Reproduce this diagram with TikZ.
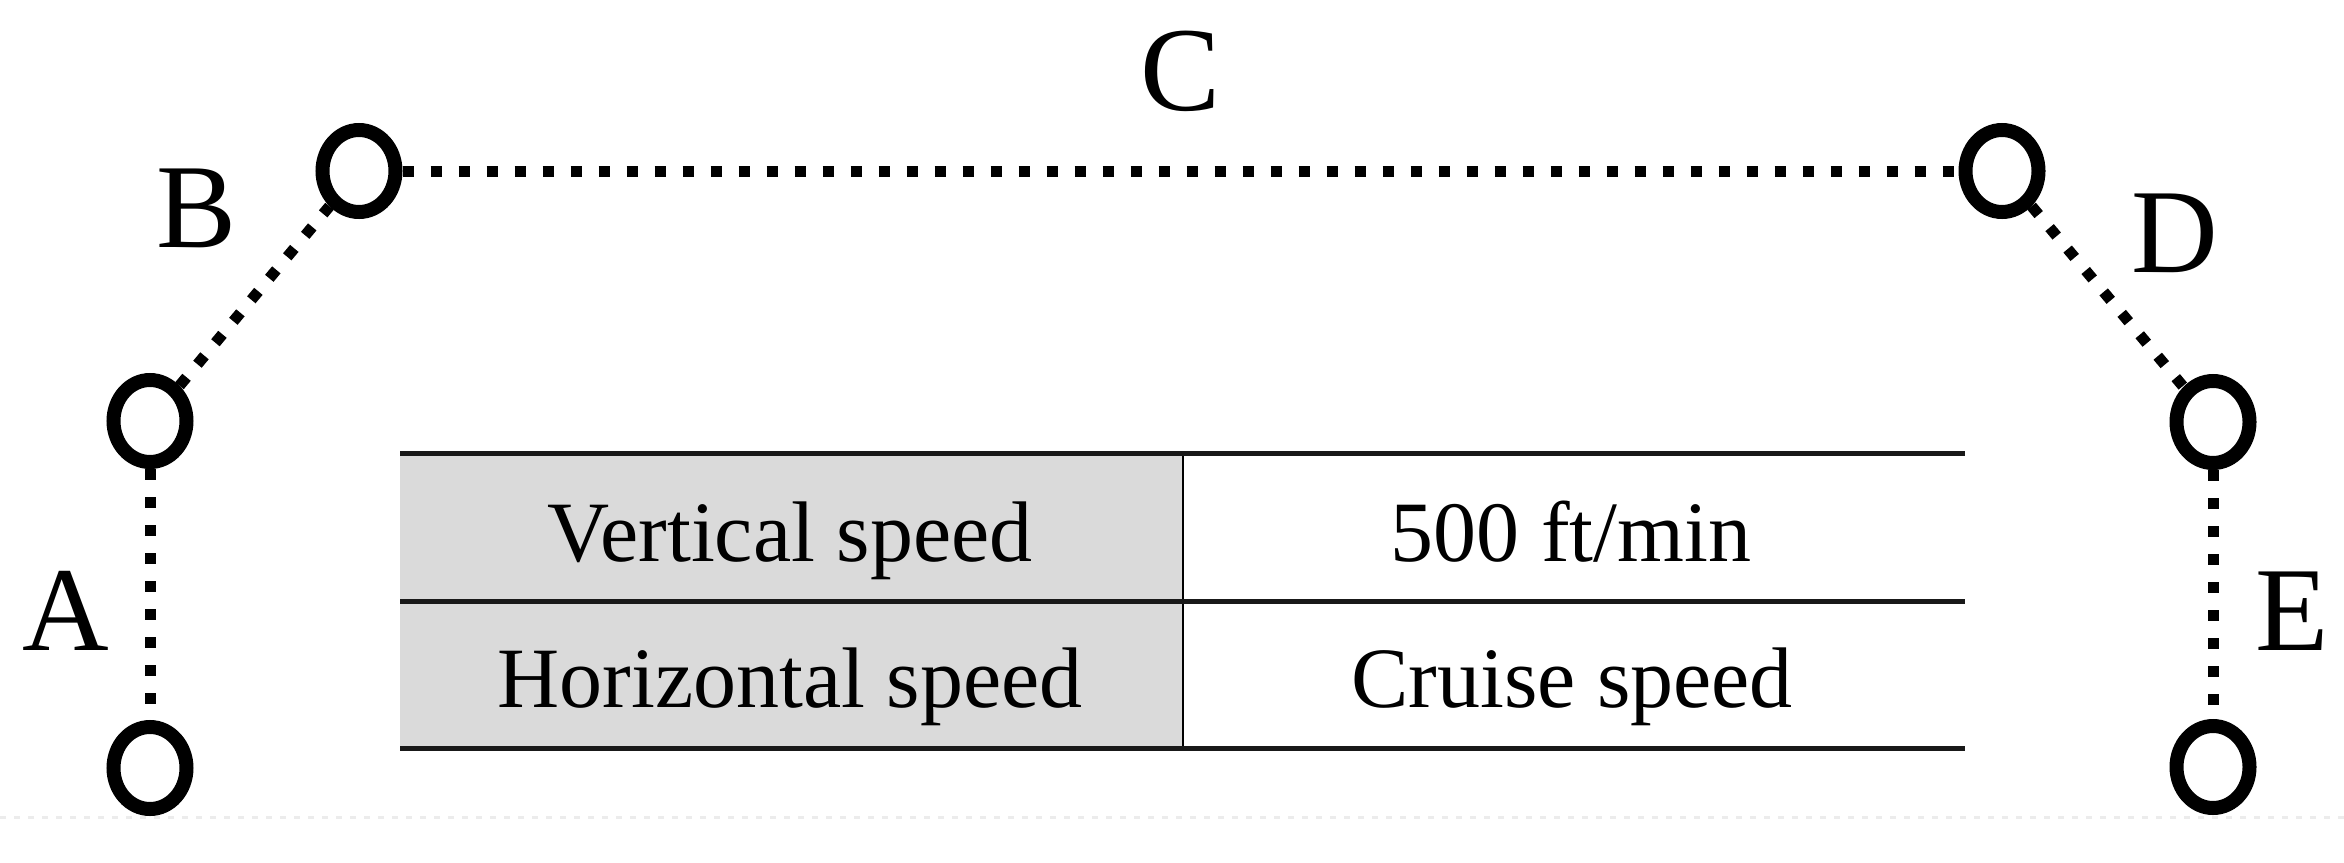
\documentclass[tikz,border=0pt]{standalone}
\usepackage{fontspec}
\setmainfont{Liberation Serif}
\usetikzlibrary{shapes.geometric}
\begin{document}
\begin{tikzpicture}[x=0.5pt,y=-0.5pt,
  ptnode/.style={ellipse, draw=black, line width=7pt, minimum width=36.5pt, minimum height=41pt, inner sep=0pt, fill=white},
  dotline/.style={line width=5.5pt, dash pattern=on 5.5pt off 8.5pt, line cap=butt},
  lbl/.style={font=\fontsize{60}{60}\selectfont, inner sep=0pt, anchor=base},
  cell/.style={font=\fontsize{43}{43}\selectfont, inner sep=0pt, anchor=base},
  tabrule/.style={line width=2.5pt, draw=gray!20!black}]
\useasboundingbox (0,0) rectangle (2344,862);
\fill[white] (0,0) rectangle (2344,862);
% faint baseline
\draw[gray!15, line width=1.5pt, dash pattern=on 3pt off 4pt] (0,817) -- (2344,817);
% table
\fill[gray!29] (400,453) rectangle (1183,748);
\draw[line width=1pt] (1183,453) -- (1183,748);
\draw[tabrule] (400,453) -- (1965,453);
\draw[tabrule] (400,601) -- (1965,601);
\draw[tabrule] (400,748) -- (1965,748);
\node[cell] (t11) at (790,561) {Vertical speed};
\node[cell] (t12) at (1571,561) {500 ft/min};
\node[cell] (t21) at (790,707) {Horizontal speed};
\node[cell] (t22) at (1572,707) {Cruise speed};
% points
\node[ptnode] (a1) at (150,768) {};
\node[ptnode] (a2) at (150,421) {};
\node[ptnode] (b) at (359,171) {};
\node[ptnode] (d) at (2002,171) {};
\node[ptnode] (e1) at (2213,422) {};
\node[ptnode] (e2) at (2213,767) {};
% connectors
\draw[dotline] (a2) -- (a1);
\draw[dotline] (a2) -- (b);
\draw[dotline] (b) -- (d);
\draw[dotline] (d) -- (e1);
\draw[dotline] (e1) -- (e2);
% labels
\node[lbl] (lA) at (66,650) {A};
\node[lbl] (lB) at (197,247) {B};
\node[lbl] (lC) at (1181,110) {C};
\node[lbl] (lD) at (2175,272) {D};
\node[lbl] (lE) at (2292,650) {E};
\end{tikzpicture}
\end{document}
